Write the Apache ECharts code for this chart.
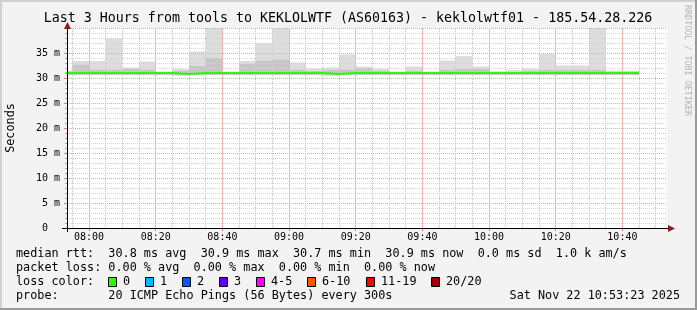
<!DOCTYPE html>
<html><head><meta charset="utf-8">
<script src="https://cdn.jsdelivr.net/npm/echarts@6/dist/echarts.min.js"></script>
<style>html,body{margin:0;padding:0;background:#f3f3f3}#c{width:697px;height:310px}</style>
</head><body><div id="c"></div>
<script>
// ---- data (5-minute RRD steps, start of each step) ----
const intervalStarts = ['07:50','07:55','08:00','08:05','08:10','08:15','08:20','08:25','08:30','08:35',
  '08:40','08:45','08:50','08:55','09:00','09:05','09:10','09:15','09:20','09:25',
  '09:30','09:35','09:40','09:45','09:50','09:55','10:00','10:05','10:10','10:15',
  '10:20','10:25','10:30','10:35','10:40'];
const stepEnd = '10:45';
// smoke: bottom, top of dark (inner) band, top of light (outer) band, in ms
const smokeLow  = [30.6,30.6,30.6,30.6,30.6,30.6,30.6,30.5,30.6,30.6,30.6,30.6,30.6,30.6,30.6,30.6,30.5,30.6,30.6,30.6,30.6,30.6,30.6,30.6,30.6,30.6,30.6,30.6,30.6,30.6,30.6,30.6,30.6,30.6,30.6];
const smokeDark = [31.3,32.7,31.6,31.6,31.9,31.6,31.0,31.5,32.4,34.1,31.0,32.8,33.5,33.6,31.6,31.4,31.6,31.6,32.0,31.5,31.0,31.5,31.0,31.6,31.8,31.8,31.1,31.3,31.5,31.6,31.6,31.6,31.6,31.3,31.3];
const smokeHigh = [31.6,33.4,33.4,37.9,32.1,33.3,31.1,31.8,35.3,40.0,31.1,33.4,37.0,40.0,33.1,31.9,32.1,34.7,32.3,31.8,31.1,32.3,31.1,33.5,34.4,32.3,31.3,31.6,31.9,34.8,32.5,32.5,40.0,31.5,31.5];
const medianRtt = [31.0,31.0,31.0,31.0,31.0,31.0,31.0,30.8,31.0,31.0,31.0,31.0,31.0,31.0,31.0,31.0,30.8,31.0,31.0,31.0,31.0,31.0,31.0,31.0,31.0,31.0,31.0,31.0,31.0,31.0,31.0,31.0,31.0,31.0,31.0];
const axisStart = '07:53:23', axisEnd = '10:53:23';
const majorGridTimes = ['08:00','08:20','08:40','09:00','09:20','09:40','10:00','10:20','10:40'];
const minorGridTimes = ['07:55','08:05','08:10','08:15','08:25','08:30','08:35','08:45','08:50','08:55',
  '09:05','09:10','09:15','09:25','09:30','09:35','09:45','09:50','09:55',
  '10:05','10:10','10:15','10:25','10:30','10:35','10:45','10:50'];
const yMax = 40, yStep = 5;
const lossLabels = ['0','1','2','3','4-5','6-10','11-19','20/20'];
const lossColors = ['#26ff00','#00b8ff','#0059ff','#5e00ff','#ff00ff','#ff5500','#ff0000','#a00000'];

const FONT = 'DejaVu Sans Mono';
function t(hms){const p=hms.split(':').map(Number);return new Date(2025,10,22,p[0],p[1],p[2]||0).getTime();}
const STEP = 5*60000;

const smokeData = intervalStarts.map((s,i)=>[t(s), t(s)+STEP, smokeLow[i], smokeDark[i], smokeHigh[i]]);
const lineData = intervalStarts.map((s,i)=>[t(s), medianRtt[i]]);
lineData.push([t(stepEnd), medianRtt[medianRtt.length-1]]);

function renderSmoke(params, api){
  const s=api.value(0), e=api.value(1), lo=api.value(2), dk=api.value(3), hi=api.value(4);
  const cs = params.coordSys;
  const a = api.coord([s, lo]), b = api.coord([e, dk]), c = api.coord([e, hi]);
  const r1 = echarts.graphic.clipRectByRect({x:a[0], y:b[1], width:b[0]-a[0], height:a[1]-b[1]}, cs);
  const r2 = echarts.graphic.clipRectByRect({x:a[0], y:c[1], width:c[0]-a[0], height:b[1]-c[1]}, cs);
  const ch = [];
  if (r2) ch.push({type:'rect', shape:r2, style:{fill:'#dddddd'}});
  if (r1) ch.push({type:'rect', shape:r1, style:{fill:'#c6c6c6'}});
  return {type:'group', children:ch};
}
function gridMarks(times, color, dash){
  return {silent:true, symbol:'none', animation:false, label:{show:false},
    lineStyle:{color:color, width:1, type:dash, opacity:1},
    emphasis:{disabled:true},
    data:times.map(s=>({xAxis:t(s)}))};
}

const legendY = [254, 268, 282, 296];
const boxX = [108,145,182,219,256,307,366,431];
const graphics = [
  {type:'rect', shape:{x:0,y:0,width:697,height:2}, style:{fill:'#d0d0d0'}, silent:true},
  {type:'rect', shape:{x:0,y:0,width:2,height:310}, style:{fill:'#d0d0d0'}, silent:true},
  {type:'rect', shape:{x:0,y:308,width:697,height:2}, style:{fill:'#9a9a9a'}, silent:true},
  {type:'rect', shape:{x:695,y:0,width:2,height:310}, style:{fill:'#9a9a9a'}, silent:true},
  {type:'line', shape:{x1:62,y1:228.5,x2:670,y2:228.5}, style:{stroke:'#000',lineWidth:1}, z:10},
  {type:'line', shape:{x1:67.5,y1:232,x2:67.5,y2:24}, style:{stroke:'#000',lineWidth:1}, z:10},
  {type:'polygon', shape:{points:[[668,225],[675,228.5],[668,232]]}, style:{fill:'#8b1a1a'}, z:10},
  {type:'polygon', shape:{points:[[64,29],[67.5,22],[71,29]]}, style:{fill:'#8b1a1a'}, z:10},
  {type:'text', x:348, y:19, style:{text:'Last 3 Hours from tools to KEKLOLWTF (AS60163) - keklolwtf01 - 185.54.28.226', font:'13.3px '+FONT, fill:'#000', align:'center', verticalAlign:'middle'}},
  {type:'text', x:11, y:128, rotation:Math.PI/2, style:{text:'Seconds', font:'11.8px '+FONT, fill:'#000', align:'center', verticalAlign:'middle'}},
  {type:'text', x:687, y:5, rotation:-Math.PI/2, style:{text:'RRDTOOL / TOBI OETIKER', font:'8.4px '+FONT, fill:'#b4b4b4', align:'left', verticalAlign:'middle'}},
  {type:'text', x:16, y:legendY[0], style:{text:'median rtt:  30.8 ms avg  30.9 ms max  30.7 ms min  30.9 ms now  0.0 ms sd  1.0 k am/s', font:'11.8px '+FONT, fill:'#000', verticalAlign:'middle'}},
  {type:'text', x:16, y:legendY[1], style:{text:'packet loss: 0.00 % avg  0.00 % max  0.00 % min  0.00 % now', font:'11.8px '+FONT, fill:'#000', verticalAlign:'middle'}},
  {type:'text', x:16, y:legendY[2], style:{text:'loss color:', font:'11.8px '+FONT, fill:'#000', verticalAlign:'middle'}},
  {type:'text', x:16, y:legendY[3], style:{text:'probe:       20 ICMP Echo Pings (56 Bytes) every 300s', font:'11.8px '+FONT, fill:'#000', verticalAlign:'middle'}},
  {type:'text', x:680, y:legendY[3], style:{text:'Sat Nov 22 10:53:23 2025', font:'11.8px '+FONT, fill:'#000', align:'right', verticalAlign:'middle'}}
];
lossLabels.forEach((lab,i)=>{
  graphics.push({type:'rect', shape:{x:boxX[i]+0.5,y:legendY[2]-4.5,width:8,height:9}, style:{fill:lossColors[i], stroke:'#000', lineWidth:1}});
  graphics.push({type:'text', x:boxX[i]+15, y:legendY[2], style:{text:lab, font:'11.8px '+FONT, fill:'#000', verticalAlign:'middle'}});
});

const chart = echarts.init(document.getElementById('c'), null, {renderer:'canvas'});
chart.setOption({
  animation:false,
  backgroundColor:'#f3f3f3',
  grid:{left:67, top:28, width:600, height:200, show:true, backgroundColor:'#ffffff', borderWidth:0},
  xAxis:{
    type:'time', min:t(axisStart), max:t(axisEnd), minInterval:20.5*60000, maxInterval:20.5*60000, z:4,
    axisLine:{show:true, lineStyle:{color:'#000'}},
    axisTick:{show:true, interval:0, length:3, lineStyle:{color:'#e08080'}},
    axisLabel:{interval:0, formatter:'{HH}:{mm}', fontFamily:FONT, fontSize:10, color:'#000', margin:4, showMinLabel:false, showMaxLabel:false},
    splitLine:{show:false}
  },
  yAxis:{
    type:'value', min:0, max:yMax, interval:yStep, z:4,
    axisLine:{show:true, lineStyle:{color:'#000'}},
    axisTick:{show:true, length:3, lineStyle:{color:'#e08080'}},
    minorTick:{show:true, splitNumber:5, length:2, lineStyle:{color:'#b0b0b0'}},
    axisLabel:{formatter:v=> v===0 ? '0  ' : v+' m', showMaxLabel:false, fontFamily:FONT, fontSize:10, color:'#000', margin:7},
    splitLine:{show:true, lineStyle:{color:'#f0a0a0', type:[1,1]}},
    minorSplitLine:{show:true, lineStyle:{color:'#d4d4d4', type:[1,1]}}
  },
  series:[
    {type:'custom', renderItem:renderSmoke, data:smokeData, z:1, encode:{x:[0,1], y:[2,3,4]}, silent:true,
      markLine:gridMarks(minorGridTimes, '#c4c4c4', [1,1])},
    {type:'line', data:lineData, step:'end', symbol:'none', z:6,
      lineStyle:{color:'#26ff00', width:2}, itemStyle:{color:'#26ff00'},
      markLine:gridMarks(majorGridTimes, '#f3b4b4', 'solid')}
  ],
  graphic:graphics
});
</script></body></html>
